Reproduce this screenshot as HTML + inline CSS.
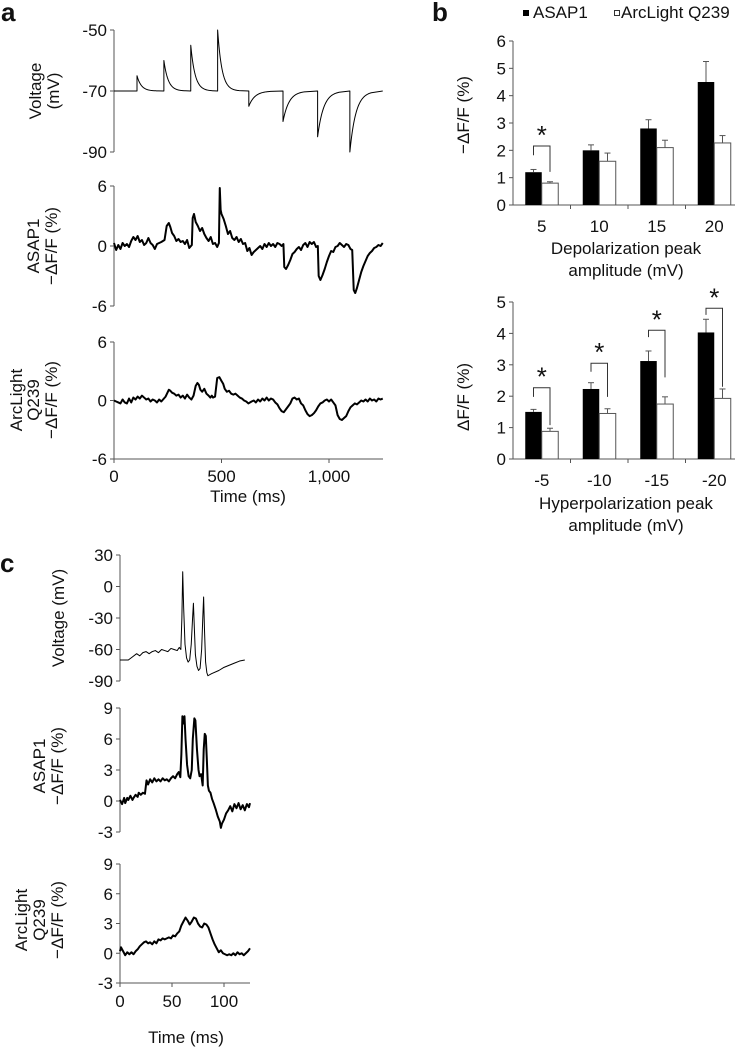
<!DOCTYPE html>
<html><head><meta charset="utf-8">
<style>
body{margin:0;background:#fff;}
svg{display:block;font-family:"Liberation Sans",sans-serif;}
text{fill:#111;}
</style></head>
<body>
<svg id="fig" width="746" height="1050" viewBox="0 0 746 1050"></svg>
<script>
// ---------- Data ----------
const aStepTimes=[107,232,357,482,627,786,947,1097];
const aStepPeaks=[-65,-60,-55,-50,-75,-80,-85,-90];
const aTEnd=1250;
const aAsapT=[0,10,20,30,40,50,60,70,80,90,100,110,120,130,140,150,160,170,180,190,200,210,220,235,245,255,262,270,280,290,300,310,320,330,340,350,362,366,372,380,390,400,410,420,430,440,450,460,470,480,488,492,496,500,510,520,530,540,550,560,570,580,590,600,610,620,630,640,650,660,670,680,690,700,710,720,730,740,750,760,770,780,788,792,800,810,820,830,840,850,860,870,880,890,900,910,920,930,940,948,952,960,970,980,990,1000,1010,1020,1030,1040,1050,1060,1070,1080,1090,1100,1108,1115,1122,1130,1140,1150,1160,1170,1180,1190,1200,1210,1220,1230,1240,1250];
const aAsapV=[0.3,-0.4,0.1,-0.3,0.3,0,0.2,-0.1,0.5,0.9,0.6,1.0,0.4,0.6,0.1,0.3,0.8,0.3,0.1,-0.3,0.2,0.3,0.4,0.6,2.0,2.3,1.9,1.3,1.0,0.5,0.7,0.4,0.5,0.2,0.6,-0.2,0.1,2.8,3.2,2.4,2.0,1.5,1.8,1.2,0.8,0.5,0.9,0.2,0.3,-0.1,0.3,5.8,3.6,3.2,2.7,2.0,1.2,1.5,0.8,0.6,0.9,0.4,0.7,0.2,0.3,-0.5,-0.2,-0.9,-0.6,-0.4,-0.2,0,-0.3,0.2,-0.1,0.3,0,0.2,-0.1,0.3,0.2,0,0.2,-2.1,-2.3,-1.9,-1.4,-0.8,-0.6,-0.3,-0.1,-0.4,0.1,0.3,-0.1,0.4,0.2,0.4,-0.1,0,-3.0,-3.4,-2.9,-2.3,-1.6,-1.0,-0.5,-0.6,-0.1,0,0.3,0.1,-0.1,0.2,0.1,-0.3,-0.4,-4.4,-4.7,-4.2,-3.4,-2.6,-2.0,-1.5,-1.0,-0.7,-0.5,-0.2,-0.1,0.1,0,0.3];
const aArcT=[0,10,20,30,40,50,60,70,80,90,100,110,120,130,140,150,160,170,180,190,200,210,220,240,255,262,270,280,290,300,310,320,330,340,350,360,370,380,388,395,402,410,420,430,440,448,455,460,470,480,490,500,508,515,525,535,545,555,565,575,585,595,605,615,625,640,650,660,670,680,690,700,710,720,730,740,750,760,770,780,790,800,810,820,830,840,850,860,870,880,890,900,910,920,930,940,950,960,970,980,990,1000,1010,1020,1030,1040,1050,1060,1070,1080,1090,1100,1110,1120,1130,1140,1150,1160,1170,1180,1190,1200,1210,1220,1230,1240,1250];
const aArcV=[0,-0.1,-0.2,-0.3,0.1,-0.2,-0.3,0.2,-0.2,0.3,0.1,0.4,0.2,0.5,0.3,0.1,0.2,-0.1,0.1,0,-0.2,0.1,-0.1,0.4,1.1,1.0,0.8,0.7,0.5,0.6,0.3,0.5,0.2,0.6,0.3,0.1,0.5,1.5,1.8,1.6,1.1,0.9,1.2,0.7,0.5,0.3,0.5,0.3,0.4,2.3,2.4,2.0,1.7,1.2,0.9,1.0,0.7,0.6,0.7,0.5,0.3,0.2,0,-0.1,-0.3,-0.1,0,-0.2,0.1,-0.1,0.2,0,0.3,0,0.2,0.1,-0.2,-0.4,-0.8,-1.1,-1.2,-0.9,-0.6,-0.3,0.2,0.3,0.1,0.2,-0.3,-0.5,-1.0,-1.4,-1.6,-1.5,-1.3,-1.0,-0.6,-0.3,-0.2,0,0.1,-0.1,0.1,-0.2,-0.5,-1.5,-1.9,-2.0,-1.8,-1.6,-1.1,-0.7,-0.5,-0.3,-0.4,-0.2,0,-0.1,0.1,-0.1,0.2,0,0.1,-0.1,0.2,0.1,0.2];
const bCats=["5","10","15","20"];
const bAsap=[1.2,2.0,2.8,4.5];
const bAsapErr=[0.1,0.2,0.32,0.75];
const bArc=[0.8,1.6,2.1,2.27];
const bArcErr=[0.05,0.3,0.27,0.27];
const b2Cats=["-5","-10","-15","-20"];
const b2Asap=[1.5,2.23,3.12,4.03];
const b2AsapErr=[0.08,0.2,0.32,0.42];
const b2Arc=[0.88,1.45,1.75,1.93];
const b2ArcErr=[0.1,0.15,0.23,0.3];
const cVT=[0,8,12,16,19,22,25,28,31,34,37,40,43,46,49,52,55,57,58.5,59.5,60.3,61.2,62.5,64,65.5,67,68.5,69.8,70.6,71.5,72.5,74,75.5,77,78.5,79.6,80.4,81.2,82.3,83.5,84.5,88,95,100,105,110,115,120];
const cVV=[-70,-70,-67,-64,-66,-63,-62,-64,-62,-61,-63,-60,-61,-62,-59,-60,-61,-58,-60,-30,14,-20,-55,-68,-72,-70,-55,-30,-16,-40,-65,-76,-80,-78,-60,-30,-10,-40,-72,-82,-85,-83,-80,-77,-75,-73,-71,-70];
const cAsapT=[0,2,4,5,7,8,10,12,13,15,17,18,20,22,24,25.5,27,29,31,33,35,37,39,41,43,45,47,49,51,53,55,56.5,58,59,60,61,62,63,64.5,66,67.5,69,70,71.5,72.5,74,75.5,76.5,78,79.5,80.5,81.5,82.5,83.5,84.5,85.5,87,88.5,90,92,94,96,97,98,100,102,104,106,108,110,112,114,116,118,120,122,124,125];
const cAsapV=[0.1,-0.3,0.3,-0.2,0.3,0.1,0.5,0.1,0.3,0.6,0.4,0.8,0.6,0.8,0.7,2.0,1.6,2.1,1.8,2.2,1.9,2.1,1.9,2.2,2.0,2.1,1.9,2.2,2.4,2.2,2.6,2.8,2.3,4.5,8.2,7.5,8.2,6,3.5,2.4,2.2,3,6,8.0,7.8,5,3,2.4,2.6,1.5,5,6.5,6.3,4,1.5,1,0.8,0.2,-0.2,-0.8,-1.5,-2.0,-2.6,-2.2,-1.8,-1.2,-0.9,-0.5,-1.0,-0.3,-0.7,-0.2,-0.8,-0.4,-0.9,-0.3,-0.6,-0.2];
const cArcT=[0,1,2,3,5,7,9,11,13,15,17,19,21,23,25,27,29,31,33,35,37,39,41,43,45,47,49,51,53,55,57,59,61,63,65,67,69,71,73,75,77,79,81,83,85,87,89,91,93,95,97,99,101,103,105,107,109,111,113,115,117,119,121,123,125];
const cArcV=[0.2,0.6,0.4,0.2,-0.2,0.1,-0.1,0.1,-0.1,0.2,0.4,0.7,0.9,1.1,1.2,1.0,1.1,0.9,1.2,1.0,1.4,1.3,1.5,1.4,1.5,1.6,1.5,1.8,1.7,2.0,2.2,2.8,3.2,3.6,3.3,2.9,3.2,3.6,3.5,3.0,2.7,2.6,3.0,2.9,2.6,2.0,1.4,0.9,0.5,0.1,0.3,0,-0.1,-0.2,-0.1,-0.2,0,-0.2,0.1,-0.1,0,-0.2,0,0.2,0.5];

// ---------- Helpers ----------
const NS="http://www.w3.org/2000/svg";
const svg=document.getElementById('fig');
const TF=17, LF=17;
function el(tag,attrs,parent){const e=document.createElementNS(NS,tag);for(const k in attrs)e.setAttribute(k,attrs[k]);(parent||svg).appendChild(e);return e;}
function txt(x,y,s,size,anchor,parent,name,rot,weight){
  const t=el('text',{x:x,y:y,'font-size':size,'text-anchor':anchor||'middle'},parent);
  if(rot)t.setAttribute('transform','rotate(-90 '+x+' '+y+')');
  if(weight)t.setAttribute('font-weight',weight);
  t.textContent=s;
  
  
  return t;}
function lin(d0,d1,r0,r1){return v=>r0+(v-d0)*(r1-r0)/(d1-d0);}
function yAxis(x,y0,y1,ticks,ys,parent,name){
  const g=el('g',{},parent);
  
  
  el('line',{x1:x,y1:y0,x2:x,y2:y1,stroke:'#555','stroke-width':1},g);
  ticks.forEach(t=>{el('line',{x1:x-4,y1:ys(t),x2:x,y2:ys(t),stroke:'#555'},g);
    txt(x-7,ys(t)+6,t,TF,'end',g,'y-tick-label');});
  return g;}
function trace(ts,vs,xs,ys,w,name){
  const d=ts.map((t,i)=>(i?'L':'M')+xs(t).toFixed(2)+' '+ys(vs[i]).toFixed(2)).join('');
  const p=el('path',{d:d,fill:'none',stroke:'#000','stroke-width':w,'stroke-linejoin':'round'});
  
  
  return p;}

// ---------- Panel a ----------
txt(1,21,'a',26,'start',null,'panel-label-a',false,'bold');
const axs=lin(0,1000,114,329);
const avy=lin(-50,-90,30,152);
yAxis(114,30,152,[-50,-70,-90],avy,null,'voltage-y-axis');
txt(41,91,'Voltage',LF,'middle',null,'voltage-y-title',true);
txt(59,91,'(mV)',LF,'middle',null,'voltage-y-title-unit',true);
{
  const ts=[0],vs=[-70];
  aStepTimes.forEach((t0,i)=>{const pk=aStepPeaks[i];const tau=pk>-70?20:28;
    ts.push(t0);vs.push(-70);
    for(let k=0;k<=100;k+=2){ts.push(t0+k+0.01);vs.push(-70+(pk+70)*Math.exp(-k/tau));}
  });
  ts.push(aTEnd);vs.push(-70);
  trace(ts,vs,axs,avy,1,'voltage-trace-a');
}
const aay=lin(6,-6,186,306);
yAxis(114,186,306,[6,0,-6],aay,null,'asap1-y-axis-a');
txt(39,246,'ASAP1',LF,'middle',null,'asap1-y-title-a',true);
txt(57,246,'−ΔF/F (%)',LF,'middle',null,'asap1-y-title-unit-a',true);
trace(aAsapT,aAsapV,axs,aay,2,'asap1-trace-a');
const acy=lin(6,-6,342,459);
yAxis(114,342,459,[6,0,-6],acy,null,'arclight-y-axis-a');
txt(22,400,'ArcLight',LF,'middle',null,'arclight-y-title-a',true);
txt(39,400,'Q239',LF,'middle',null,'arclight-y-title-q239-a',true);
txt(57,400,'−ΔF/F (%)',LF,'middle',null,'arclight-y-title-unit-a',true);
trace(aArcT,aArcV,axs,acy,2,'arclight-trace-a');
{const g=el('g',{});
 el('line',{x1:114,y1:459,x2:383,y2:459,stroke:'#555'},g);
 [[0,'0'],[500,'500'],[1000,'1,000']].forEach(a=>{el('line',{x1:axs(a[0]),y1:459,x2:axs(a[0]),y2:463,stroke:'#555'},g);txt(axs(a[0]),482,a[1],TF,'middle',g,'x-tick-label');});
 txt(248,502,'Time (ms)',LF,'middle',g,'x-axis-title-a');}

// ---------- Panel b ----------
txt(432,21,'b',26,'start',null,'panel-label-b',false,'bold');
{const g=el('g',{});
 el('rect',{x:523,y:10,width:6,height:6,fill:'#000'},g);
 txt(533,18,'ASAP1',17,'start',g,'legend-entry-asap1');
 el('rect',{x:614.5,y:10.5,width:5,height:5,fill:'#fff',stroke:'#000','stroke-width':0.8},g);
 txt(621,18,'ArcLight Q239',17,'start',g,'legend-entry-arclight');}
function barChart(cats,asap,asapE,arc,arcE,y0,yMax,yTop,ticks,brackets,prefix){
  const ys=lin(0,yMax,y0,yTop);
  const gw=57.5,x0=513,bw=16.5;
  yAxis(x0,yTop,y0,ticks,ys,null,prefix+'-y-axis');
  const g=el('g',{});
  el('line',{x1:x0,y1:y0,x2:x0+4*gw-8,y2:y0,stroke:'#555'},g);
  cats.forEach((c,i)=>{
    if(i>0)el('line',{x1:x0+i*gw,y1:y0,x2:x0+i*gw,y2:y0+4,stroke:'#555'},g);
    const cx=x0+(i+0.5)*gw;
    txt(cx,y0+27,c,TF,'middle',g,'x-tick-label');
    const r1=el('rect',{x:cx-bw,y:ys(asap[i]),width:bw,height:y0-ys(asap[i]),fill:'#000'});
    
    
    el('line',{x1:cx-bw/2,y1:ys(asap[i]),x2:cx-bw/2,y2:ys(asap[i]+asapE[i]),stroke:'#555'});
    el('line',{x1:cx-bw/2-3,y1:ys(asap[i]+asapE[i]),x2:cx-bw/2+3,y2:ys(asap[i]+asapE[i]),stroke:'#555'});
    const r2=el('rect',{x:cx,y:ys(arc[i]),width:bw,height:y0-ys(arc[i]),fill:'#fff',stroke:'#555','stroke-width':1});
    
    
    el('line',{x1:cx+bw/2,y1:ys(arc[i]),x2:cx+bw/2,y2:ys(arc[i]+arcE[i]),stroke:'#555'});
    el('line',{x1:cx+bw/2-3,y1:ys(arc[i]+arcE[i]),x2:cx+bw/2+3,y2:ys(arc[i]+arcE[i]),stroke:'#555'});
    const br=brackets[i];
    if(br){const bg=el('g',{});
      el('path',{d:'M'+(cx-bw/2)+' '+ys(br[1])+'V'+ys(br[0])+'H'+(cx+bw/2)+'V'+ys(br[2]),fill:'none',stroke:'#333','stroke-width':1},bg);
      txt(cx,ys(br[0])-2,'*',26,'middle',bg,'significance-star');}
  });
  return ys;}
barChart(bCats,bAsap,bAsapErr,bArc,bArcErr,205,6,41,[0,1,2,3,4,5,6],[[2.16,1.82,1.21],null,null,null],'depol');
txt(469,115,'−ΔF/F (%)',LF,'middle',null,'depol-y-title',true);
txt(626,254,'Depolarization peak',LF,'middle',null,'depol-x-title');
txt(626,276,'amplitude (mV)',LF,'middle',null,'depol-x-title-unit');
barChart(b2Cats,b2Asap,b2AsapErr,b2Arc,b2ArcErr,459,5,302,[0,1,2,3,4,5],[[2.27,1.98,1.08],[3.05,2.78,1.98],[4.1,3.88,2.6],[4.8,4.59,2.3]],'hyper');
txt(469,397,'ΔF/F (%)',LF,'middle',null,'hyper-y-title',true);
txt(626,509,'Hyperpolarization peak',LF,'middle',null,'hyper-x-title');
txt(626,531,'amplitude (mV)',LF,'middle',null,'hyper-x-title-unit');

// ---------- Panel c ----------
txt(0,572,'c',26,'start',null,'panel-label-c',false,'bold');
const cxs=lin(0,100,120,224);
const cvy=lin(30,-90,555,681);
yAxis(120,555,681,[30,0,-30,-60,-90],cvy,null,'voltage-y-axis-c');
txt(64,618,'Voltage (mV)',LF,'middle',null,'voltage-y-title-c',true);
trace(cVT,cVV,cxs,cvy,1,'voltage-trace-c');
const cay=lin(9,-3,708,832);
yAxis(120,708,832,[9,6,3,0,-3],cay,null,'asap1-y-axis-c');
txt(45,766,'ASAP1',LF,'middle',null,'asap1-y-title-c',true);
txt(63,766,'−ΔF/F (%)',LF,'middle',null,'asap1-y-title-unit-c',true);
trace(cAsapT,cAsapV,cxs,cay,2,'asap1-trace-c');
const ccy=lin(9,-3,864,983);
yAxis(120,864,983,[9,6,3,0,-3],ccy,null,'arclight-y-axis-c');
txt(27,920,'ArcLight',LF,'middle',null,'arclight-y-title-c',true);
txt(45,920,'Q239',LF,'middle',null,'arclight-y-title-q239-c',true);
txt(63,920,'−ΔF/F (%)',LF,'middle',null,'arclight-y-title-unit-c',true);
trace(cArcT,cArcV,cxs,ccy,2,'arclight-trace-c');
{const g=el('g',{});
 el('line',{x1:120,y1:983,x2:250,y2:983,stroke:'#555'},g);
 [0,50,100].forEach(t=>{el('line',{x1:cxs(t),y1:983,x2:cxs(t),y2:987,stroke:'#555'},g);txt(cxs(t),1007,String(t),TF,'middle',g,'x-tick-label');});
 txt(186,1043,'Time (ms)',LF,'middle',g,'x-axis-title-c');}
</script>
</body></html>
